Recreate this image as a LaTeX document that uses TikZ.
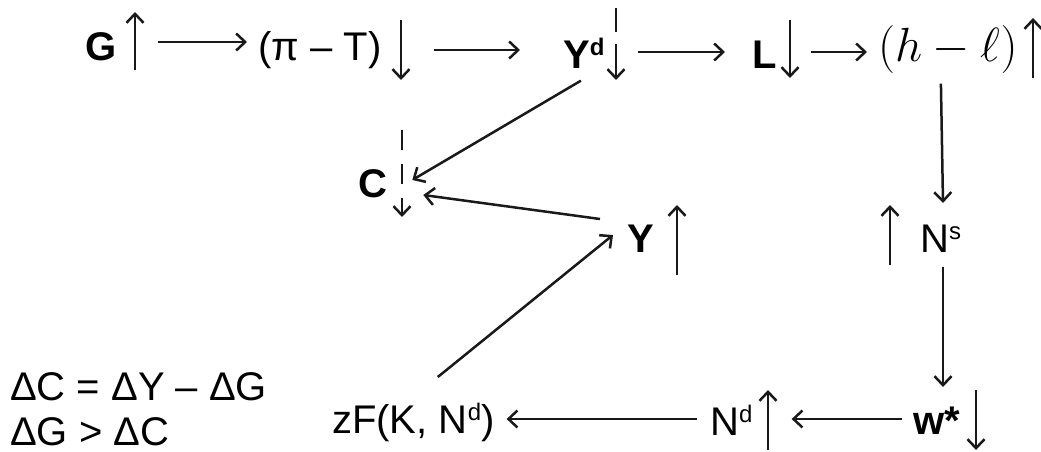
\documentclass[tikz,border=0pt]{standalone}
\usepackage{fix-cm}
\usepackage[no-math]{fontspec}
\setmainfont{Liberation Sans}
\usetikzlibrary{arrows.meta}
\newcommand{\supx}[1]{\raisebox{13pt}{\fontsize{24}{24}\selectfont #1}}
\begin{document}
\begin{tikzpicture}[x=1pt,y=-1pt,
  lab/.style={inner sep=0pt, text height=0pt, text depth=0pt, anchor=west, font=\fontsize{40}{40}\selectfont},
  blab/.style={lab, font=\fontsize{40}{40}\selectfont\bfseries},
  conn/.style={line width=2.5pt, draw=black!90, -{Straight Barb[length=9pt,width=17pt]}},
  ind/.style={conn}]
\useasboundingbox (0,0) rectangle (1041,452);
% nodes
\node[blab] (G)  at (85,60)  {G};
\node[lab]  (pt) at (258,60) {(π – T)};
\node[blab] (Yd) at (563,68) {Y\supx{d}};
\node[blab] (L)  at (752,68) {L};
\node[lab, font=\fontsize{48}{48}\selectfont] (hl) at (878,62) {$(h-\ell)$};
\node[blab] (C)  at (358,197) {C};
\node[blab] (Y)  at (627,252) {Y};
\node[lab]  (Ns) at (920,252) {N\supx{s}};
\node[blab] (w)  at (913,434) {w*};
\node[lab]  (Nd) at (710,435) {N\supx{d}};
\node[lab]  (zF) at (332,433) {zF(K, N\supx{d})};
\node[lab]  (e1) at (10,400) {ΔC = ΔY – ΔG};
\node[lab]  (e2) at (10,445) {ΔG > ΔC};
% connectors
\draw[conn] ([xshift=41pt,yshift=18pt]G.east) -- ([xshift=-11pt,yshift=18pt]pt.west);
\draw[conn] ([xshift=52pt,yshift=10pt]pt.east) -- ([xshift=-43pt,yshift=18pt]Yd.west);
\draw[conn] ([xshift=33pt,yshift=16pt]Yd.east) -- ([xshift=-27pt,yshift=16pt]L.west);
\draw[conn] ([xshift=34pt,yshift=16pt]L.east) -- ([xshift=-11pt,yshift=10pt]hl.west);
\draw[conn] ([xshift=-3pt,yshift=-12pt]Yd.south) -- ([xshift=25pt,yshift=17pt]C.east);
\draw[conn] ([xshift=-27pt,yshift=33pt]Y.west) -- ([xshift=36pt,yshift=2pt]C.east);
\draw[conn] ([xshift=-7pt,yshift=-21pt]hl.south) -- ([xshift=23pt,yshift=49pt]Ns.west);
\draw[conn] ([xshift=23pt,yshift=-15pt]Ns.west) -- ([xshift=30pt,yshift=47pt]w.west);
\draw[conn] ([xshift=-11pt,yshift=15pt]w.west) -- ([xshift=39pt,yshift=16pt]Nd.east);
\draw[conn] ([xshift=-13pt,yshift=16pt]Nd.west) -- ([xshift=12pt,yshift=14pt]zF.east);
\draw[conn] ([xshift=24.5pt,yshift=56pt]zF.center) -- ([xshift=-14pt,yshift=17pt]Y.west);
% change indicators
\draw[ind] (135,70) -- (135,12);
\draw[ind] (401,20) -- (401,80);
\draw[ind, dash pattern=on 24pt off 12pt on 40pt off 1pt] (616,8) -- (616,80);
\draw[ind] (790,20) -- (790,78);
\draw[ind] (1033,78) -- (1033,18);
\draw[ind, dash pattern=on 20pt off 14pt] (402,130) -- (402,217);
\draw[ind] (677,275) -- (677,205);
\draw[ind] (890,265) -- (890,205);
\draw[ind] (768,450) -- (768,390);
\draw[ind] (976,390) -- (976,450);
\end{tikzpicture}
\end{document}
